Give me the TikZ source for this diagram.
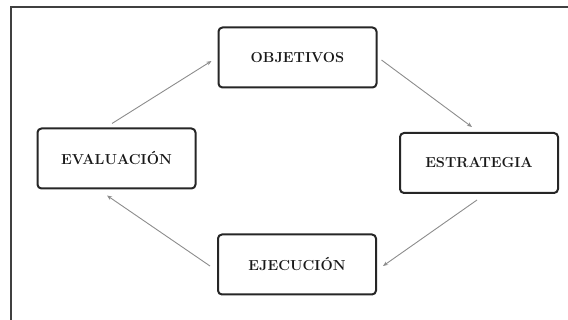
\documentclass[tikz,border=0pt]{standalone}
\usepackage{fontspec}
\usetikzlibrary{arrows.meta}
\tikzset{
  stagebox/.style={draw=black!85, line width=2pt, rounded corners=4pt, fill=white,
    minimum width=158pt, minimum height=60pt, inner sep=0pt,
    font=\fontsize{14.5}{16}\selectfont\bfseries, text=black!90},
  flowarrow/.style={draw=black!45, line width=0.9pt, -{Stealth[length=5pt,width=4pt]}},
  frameline/.style={draw=black!75, line width=2pt}
}
\begin{document}
\begin{tikzpicture}[x=1pt,y=-1pt]
\useasboundingbox (0,0) rectangle (568,320);
\coordinate (fa) at (10.5,320);
\coordinate (fb) at (10.5,7);
\coordinate (fc) at (568,7);
\draw[frameline] (fa) -- (fb) -- (fc);
\node[stagebox] (obj) at (297.5,57.5) {OBJETIVOS};
\node[stagebox] (eva) at (116.5,158.5) {EVALUACIÓN};
\node[stagebox] (est) at (479,163) {ESTRATEGIA};
\node[stagebox] (eje) at (297,264.5) {EJECUCIÓN};
\draw[flowarrow] ([shift={(-4.5,-4)}]eva.north) -- ([shift={(-6,3.5)}]obj.west);
\draw[flowarrow] ([shift={(4,2.5)}]obj.east) -- ([shift={(-7,-5)}]est.north);
\draw[flowarrow] ([shift={(-2,6)}]est.south) -- ([shift={(6,1.5)}]eje.east);
\draw[flowarrow] ([shift={(-7,1.5)}]eje.west) -- ([shift={(-9.5,6)}]eva.south);
\end{tikzpicture}
\end{document}
